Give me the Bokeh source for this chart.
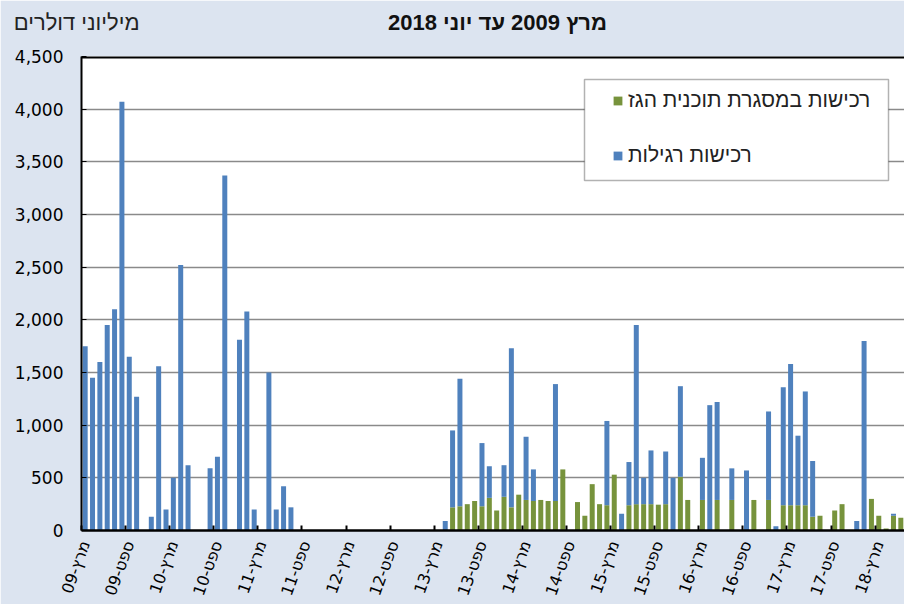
import math
from bokeh.plotting import figure
from bokeh.models import (ColumnDataSource, Range1d, FixedTicker, Span,
                          NumeralTickFormatter, Legend, LegendItem, Label, BoxAnnotation)
from bokeh.embed import file_html
from bokeh.resources import INLINE

# ---------------- data (monthly, Mar-2009 .. Jun-2018), USD millions ----------------
tick_labels = ["מרץ-09", "ספט-09", "מרץ-10", "ספט-10", "מרץ-11", "ספט-11", "מרץ-12",
               "ספט-12", "מרץ-13", "ספט-13", "מרץ-14", "ספט-14", "מרץ-15", "ספט-15",
               "מרץ-16", "ספט-16", "מרץ-17", "ספט-17", "מרץ-18"]

# regular purchases (blue)
regular = [1750, 1450, 1600, 1950, 2100, 4070, 1650, 1270, 0, 130,        # Mar-09..Dec-09
           1560, 200, 500, 2520, 620, 0, 0, 590, 700, 3370, 0, 1810,      # 2010
           2080, 200, 0, 1500, 200, 420, 220, 0, 0, 0, 0, 0,              # 2011
           0, 0, 0, 0, 0, 0, 0, 0, 0, 0, 0, 0,                            # 2012
           0, 0, 0, 90, 730, 1210, 0, 0, 600, 300, 0, 300,                # 2013
           1510, 0, 600, 300, 0, 0, 1110, 0, 0, 0, 0, 0,                  # 2014
           0, 800, 0, 160, 410, 1700, 250, 510, 0, 500, 500, 860,         # 2015
           0, 0, 400, 1190, 930, 0, 300, 0, 570, 0, 0, 840,               # 2016
           40, 1120, 1340, 660, 1080, 530, 0, 0, 0, 0, 0, 90,             # 2017
           1800, 0, 0, 0, 20, 0]                                          # 2018

# purchases under the natural-gas programme (green)
gas = [0, 0, 0, 0, 0, 0, 0, 0, 0, 0,
       0, 0, 0, 0, 0, 0, 0, 0, 0, 0, 0, 0,
       0, 0, 0, 0, 0, 0, 0, 0, 0, 0, 0, 0,
       0, 0, 0, 0, 0, 0, 0, 0, 0, 0, 0, 0,
       0, 0, 0, 0, 220, 230, 250, 280, 230, 310, 190, 320,
       220, 340, 290, 280, 290, 280, 280, 580, 0, 270, 140, 440,
       250, 240, 530, 0, 240, 250, 250, 250, 245, 250, 0, 510,
       290, 0, 290, 0, 290, 0, 290, 0, 0, 290, 0, 290,
       0, 240, 240, 240, 240, 130, 140, 0, 190, 250, 0, 0,
       0, 300, 140, 20, 140, 120]

y_ticks = [0, 500, 1000, 1500, 2000, 2500, 3000, 3500, 4000, 4500]
label_every = 6

series_gas = "רכישות במסגרת תוכנית הגז"
series_reg = "רכישות רגילות"
unit_text = "מיליוני דולרים"
title_text = "מרץ 2009 עד יוני  2018"

BG = "#dce4f0"
BLUE = "#4F81BD"
GREEN = "#77933C"

n = len(regular)
src = ColumnDataSource(dict(x=[i + 0.5 for i in range(n)], gas=gas, regular=regular))

p = figure(width=904, height=604, output_backend="svg", toolbar_location=None,
           x_range=Range1d(0, n), y_range=Range1d(0, y_ticks[-1]),
           min_border_left=81, min_border_right=0, min_border_top=56, min_border_bottom=73,
           background_fill_color="white", border_fill_color=BG, outline_line_color=None)

renderers = p.vbar_stack(["gas", "regular"], x="x", width=0.68, source=src,
                         color=[GREEN, BLUE], line_color=None)
r_gas, r_reg = renderers

# grid
p.xgrid.grid_line_color = None
p.ygrid.ticker = FixedTicker(ticks=y_ticks)
p.ygrid.grid_line_color = "#8a8a8a"
p.ygrid.grid_line_width = 1.6

# top border of the plot area
p.add_layout(Span(location=y_ticks[-1], dimension="width", line_color="black", line_width=4))

# y axis
ya = p.yaxis[0]
ya.ticker = FixedTicker(ticks=y_ticks)
ya.formatter = NumeralTickFormatter(format="0,0")
ya.major_label_text_font = "DejaVu Sans"
ya.major_label_text_font_size = "17px"
ya.major_label_text_color = "black"
ya.axis_line_color = "black"
ya.axis_line_width = 2
ya.major_tick_in = 5
ya.major_tick_out = 0
ya.major_tick_line_color = "black"
ya.minor_tick_line_color = None
ya.major_label_standoff = 18

# x axis
label_pos = [label_every * k + 0.5 for k in range(len(tick_labels))]
bounds = [label_every * k for k in range(len(tick_labels) + 1)]
xa = p.xaxis[0]
xa.ticker = FixedTicker(ticks=label_pos, minor_ticks=bounds)
xa.major_label_overrides = {pos: lab for pos, lab in zip(label_pos, tick_labels)}
xa.major_label_orientation = math.radians(70)
xa.major_label_text_font = "DejaVu Sans"
xa.major_label_text_font_size = "16px"
xa.major_label_text_color = "black"
xa.major_tick_in = 0
xa.major_tick_out = 0
xa.minor_tick_in = 5
xa.minor_tick_out = 0
xa.minor_tick_line_color = "black"
xa.minor_tick_line_width = 2
xa.axis_line_color = "black"
xa.axis_line_width = 2.5
xa.major_label_standoff = 11

# legend box + legend
box = BoxAnnotation(left=503, right=807, bottom=350, top=451,
                    left_units="screen", right_units="screen",
                    bottom_units="screen", top_units="screen",
                    fill_color="white", fill_alpha=1.0, line_color="black", line_width=1.5)
p.add_layout(box)

legend = Legend(items=[LegendItem(label=series_gas, renderers=[r_gas]),
                       LegendItem(label=series_reg, renderers=[r_reg])],
                location=(531, 363), orientation="vertical",
                padding=10, spacing=31, glyph_width=11, glyph_height=11,
                label_height=20, label_standoff=5,
                label_text_font="Liberation Sans", label_text_font_size="21px",
                label_text_color="#222222",
                background_fill_alpha=0, border_line_color=None)
p.add_layout(legend)

# heading texts, placed in the panel above the plot area
p.add_layout(Label(x=419, y=34, x_units="screen", y_units="screen", text=title_text,
                   text_align="center", text_baseline="alphabetic",
                   text_font="Liberation Sans", text_font_size="22px",
                   text_font_style="bold", text_color="#111111"), "above")
p.add_layout(Label(x=58, y=9, x_units="screen", y_units="screen", text=unit_text,
                   text_align="right", text_baseline="alphabetic",
                   text_font="Liberation Sans", text_font_size="22px", text_color="#222222"),
             "above")

open("out.html", "w").write(file_html(p, INLINE))
